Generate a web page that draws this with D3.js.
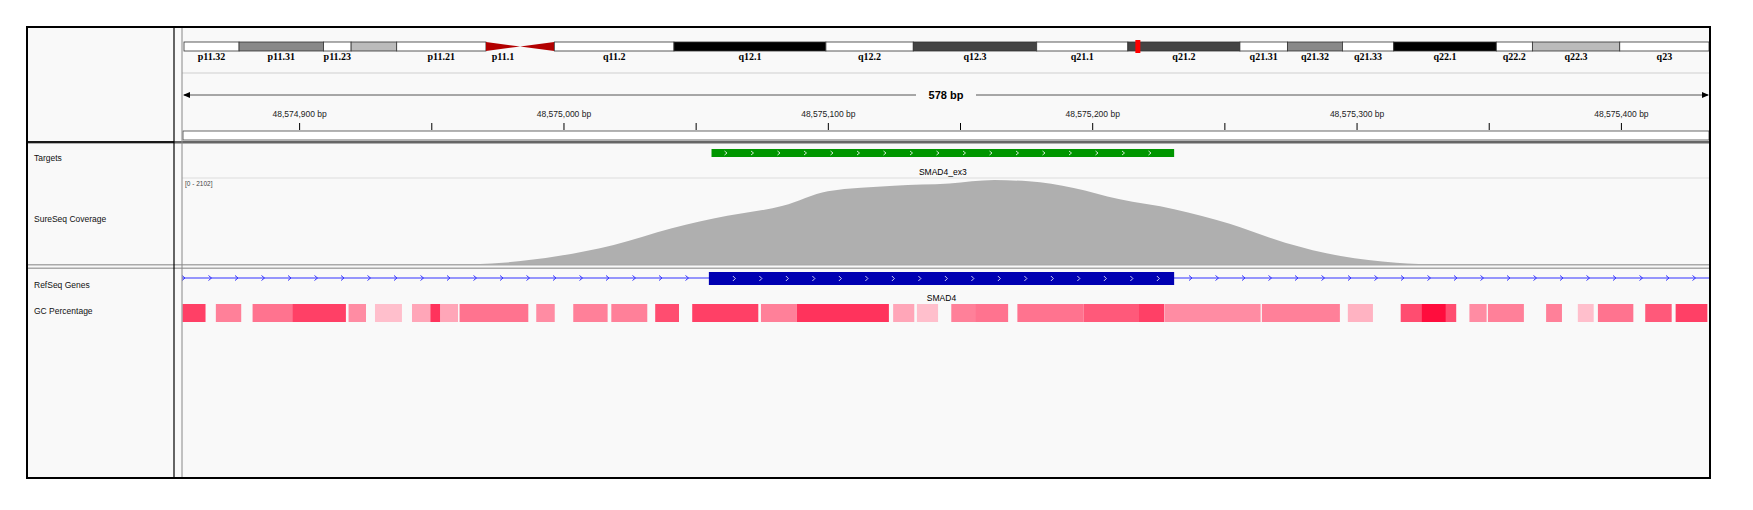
<!DOCTYPE html>
<html><head><meta charset="utf-8">
<script src="https://cdn.jsdelivr.net/npm/d3@7"></script>
<style>body{margin:0;background:#fff}text{font-family:"Liberation Sans",Arial,sans-serif}</style>
</head><body><div id="chart"></div>
<script>
// ideogram bands of chr18 (Mb, approximate)
const bandNames = ['p11.32','p11.31','p11.23','p11.22','p11.21','p11.1','q11.1','q11.2','q12.1','q12.2','q12.3','q21.1','q21.2','q21.31','q21.32','q21.33','q22.1','q22.2','q22.3','q23'];
const bandStarts = [0,2.9,7.35,8.8,11.2,15.9,17.7,19.5,25.8,33.8,38.4,44.9,49.7,55.6,58.1,61,63.7,69.1,71,75.6];
const bandEnd = 80.3;
const bandStain = ['w','g50','w','g25','w','cenp','cenq','w','g100','w','g75','w','g75','w','g50','w','g100','w','g25','w'];
const bandLabelled = [1,1,1,0,1,1,0,1,1,1,1,1,1,1,1,1,1,1,1,1];
const currentPos = 50.2;

// locus
const viewStart = 48574855.7, viewEnd = 48575433.7;
const tickValues = [48574900,48575000,48575100,48575200,48575300,48575400];
const minorTicks = [48574950,48575050,48575150,48575250,48575350];
const targetStart = 48575056, targetEnd = 48575231;
const geneStart = 48575055, geneEnd = 48575231;

// coverage (bp, depth)
const covPos = [48574955,48574960,48574977,48574998,48575019,48575041,48575062,48575083,48575100,48575125,48575146,48575163,48575176,48575193,48575210,48575231,48575252,48575273,48575294,48575315,48575332,48575340];
const covVal = [0,8,55,218,491,901,1201,1447,1802,1938,1993,2075,2047,1884,1611,1365,1010,546,218,55,8,0];
const covMax = 2102;

// GC percentage blocks: offset from view start (bp), fraction
const gcStart = [0.2,12.8,26.7,41.7,63,73,87,94,105,134,148,162.4,179,193,219,232.6,269,278,291,300,316,341,362,371.6,408.5,441,461,469,487,494,516,528,535.6,553.5,565];
const gcEnd =   [8.9,22.4,41.7,62,69.6,83.2,104.4,97.6,131,141,161,176,188,218,232.6,267.4,277,286,300,312.5,341,362,371.5,408,438,450.5,482,478,493.5,507.6,522,534,549,563.5,577];
const gcVal =   [0.75,0.5,0.55,0.75,0.45,0.25,0.35,0.8,0.55,0.45,0.5,0.5,0.7,0.75,0.5,0.8,0.35,0.25,0.5,0.55,0.55,0.65,0.75,0.45,0.5,0.3,0.7,0.95,0.45,0.5,0.5,0.25,0.55,0.65,0.75];

const W = 1753, H = 510;
const L = 27, R = 1710, T = 27, B = 478, X0 = 182;
const svg = d3.select('#chart').append('svg').attr('width', W).attr('height', H);

svg.append('rect').attr('x', L).attr('y', T).attr('width', R - L).attr('height', B - T).attr('fill', '#f9f9f9');

// ideogram
const ix = d3.scaleLinear().domain([0, bandEnd]).range([X0 + 2, R - 1]);
const stainFill = {w:'#fff', g25:'#bbb', g50:'#888', g75:'#444', g100:'#000'};
const iy = 42, ih = 9;
const ideo = svg.append('g');
bandNames.forEach(function(n, i) {
  const x1 = ix(bandStarts[i]), x2 = ix(i < bandNames.length - 1 ? bandStarts[i + 1] : bandEnd);
  const s = bandStain[i];
  if (s === 'cenp') {
    ideo.append('path').attr('d', `M${x1},${iy}L${x2},${iy + ih / 2}L${x1},${iy + ih}Z`).attr('fill', '#b20000');
  } else if (s === 'cenq') {
    ideo.append('path').attr('d', `M${x2},${iy}L${x1},${iy + ih / 2}L${x2},${iy + ih}Z`).attr('fill', '#b20000');
  } else {
    ideo.append('rect').attr('x', x1).attr('y', iy).attr('width', x2 - x1).attr('height', ih)
      .attr('fill', stainFill[s]).attr('stroke', '#333').attr('stroke-width', 0.8);
  }
  if (bandLabelled[i]) {
    ideo.append('text').attr('x', (x1 + x2) / 2).attr('y', iy + ih + 9).attr('text-anchor', 'middle')
      .style('font-family', '"Liberation Serif",serif').style('font-weight', 'bold').style('font-size', '10px').text(n);
  }
});
ideo.append('rect').attr('x', ix(currentPos) - 2).attr('y', iy - 2).attr('width', 5).attr('height', ih + 4).attr('fill', '#f00');
svg.append('line').attr('x1', X0).attr('x2', R).attr('y1', 73).attr('y2', 73).attr('stroke', '#e4e4e4').attr('stroke-width', 2);

// ruler
const x = d3.scaleLinear().domain([viewStart, viewEnd]).range([X0, R]);
svg.append('line').attr('x1', X0 + 2).attr('x2', R - 2).attr('y1', 95).attr('y2', 95).attr('stroke', '#555');
svg.append('path').attr('d', `M${X0 + 1},95l7,-3v6z`).attr('fill', '#000');
svg.append('path').attr('d', `M${R - 1},95l-7,-3v6z`).attr('fill', '#000');
const mid = (X0 + R) / 2;
svg.append('rect').attr('x', mid - 30).attr('y', 88).attr('width', 60).attr('height', 14).attr('fill', '#f9f9f9');
svg.append('text').attr('x', mid).attr('y', 99).attr('text-anchor', 'middle').style('font-size', '11px').style('font-weight', 'bold').text((viewEnd - viewStart).toFixed(0) + ' bp');

const axis = d3.axisBottom(x).tickValues(tickValues.concat(minorTicks)).tickSize(7).tickSizeOuter(0)
  .tickFormat(d => tickValues.includes(d) ? d3.format(',')(d) + ' bp' : '');
const ag = svg.append('g').attr('transform', 'translate(0,123)').call(axis);
ag.select('.domain').remove();
ag.selectAll('.tick line').attr('stroke', '#000');
ag.selectAll('.tick text').attr('y', -12).style('font-size', '8.5px').style('font-family', '"Liberation Sans",Arial,sans-serif').attr('fill', '#222');
svg.append('rect').attr('x', X0 + 1).attr('y', 131).attr('width', R - X0 - 2).attr('height', 9).attr('fill', '#fff').attr('stroke', '#444').attr('stroke-width', 0.8);
svg.append('rect').attr('x', L).attr('y', 141).attr('width', R - L).attr('height', 2.5).attr('fill', '#666');

// targets
svg.append('rect').attr('x', x(targetStart)).attr('y', 149).attr('width', x(targetEnd) - x(targetStart)).attr('height', 8).attr('fill', '#009600');
d3.range(x(targetStart) + 14, x(targetEnd) - 6, 26.5).forEach(function(cx) {
  svg.append('path').attr('d', `M${cx - 1},151l2.5,2l-2.5,2`).attr('fill', 'none').attr('stroke', '#fff').attr('stroke-width', 0.8);
});
svg.append('text').attr('x', (x(targetStart) + x(targetEnd)) / 2).attr('y', 175).attr('text-anchor', 'middle').style('font-size', '8.5px').text('SMAD4_ex3');
svg.append('line').attr('x1', X0).attr('x2', R).attr('y1', 178).attr('y2', 178).attr('stroke', '#ddd');

// coverage
const cy = d3.scaleLinear().domain([0, covMax]).range([265, 179]);
const covData = covPos.map((p, i) => [p, covVal[i]]);
svg.append('path').datum(covData)
  .attr('d', d3.area().x(d => x(d[0])).y0(265).y1(d => cy(d[1])).curve(d3.curveMonotoneX))
  .attr('fill', '#afafaf');
svg.append('text').attr('x', X0 + 3).attr('y', 186).style('font-size', '6.5px').attr('fill', '#444').text('[0 - ' + covMax + ']');
svg.append('rect').attr('x', L).attr('y', 264).attr('width', R - L).attr('height', 1.5).attr('fill', '#aaa');
svg.append('rect').attr('x', L).attr('y', 267.5).attr('width', R - L).attr('height', 1.5).attr('fill', '#aaa');

// refseq gene
svg.append('line').attr('x1', X0).attr('x2', R).attr('y1', 278).attr('y2', 278).attr('stroke', '#3333ff').attr('stroke-width', 1.2);
d3.range(X0 + 1, R, 26.5).forEach(function(cx) {
  if (cx > x(geneStart) - 3 && cx < x(geneEnd) + 3) return;
  svg.append('path').attr('d', `M${cx - 1},275.5l3,2.5l-3,2.5`).attr('fill', 'none').attr('stroke', '#3333ff').attr('stroke-width', 1);
});
svg.append('rect').attr('x', x(geneStart)).attr('y', 272).attr('width', x(geneEnd) - x(geneStart)).attr('height', 13).attr('fill', '#0000b2');
d3.range(x(geneStart) + 25, x(geneEnd) - 4, 26.5).forEach(function(cx) {
  svg.append('path').attr('d', `M${cx - 1},276l2.5,2.5l-2.5,2.5`).attr('fill', 'none').attr('stroke', '#fff').attr('stroke-width', 0.8);
});
svg.append('text').attr('x', (x(geneStart) + x(geneEnd)) / 2).attr('y', 301).attr('text-anchor', 'middle').style('font-size', '8.5px').text('SMAD4');

// GC percentage
const gcCol = d3.interpolateRgb('#ffffff', '#ff0033');
gcStart.forEach(function(s, i) {
  const x1 = x(viewStart + s), x2 = Math.min(R, x(viewStart + gcEnd[i]));
  svg.append('rect').attr('x', x1).attr('y', 304).attr('width', x2 - x1).attr('height', 18).attr('fill', gcCol(gcVal[i]));
});

// names panel
const names = [['Targets', 161], ['SureSeq Coverage', 222], ['RefSeq Genes', 288], ['GC Percentage', 314]];
names.forEach(n => svg.append('text').attr('x', 34).attr('y', n[1]).style('font-size', '8.5px').attr('fill', '#111').text(n[0]));

// frame
svg.append('line').attr('x1', 174).attr('x2', 174).attr('y1', T).attr('y2', B).attr('stroke', '#000').attr('stroke-width', 1.2);
svg.append('line').attr('x1', X0).attr('x2', X0).attr('y1', T).attr('y2', B).attr('stroke', '#888').attr('stroke-width', 1);
svg.append('line').attr('x1', L).attr('x2', 174).attr('y1', 142).attr('y2', 142).attr('stroke', '#000').attr('stroke-width', 1.5);
svg.append('rect').attr('x', L).attr('y', T).attr('width', R - L).attr('height', B - T).attr('fill', 'none').attr('stroke', '#000').attr('stroke-width', 2);
</script></body></html>
